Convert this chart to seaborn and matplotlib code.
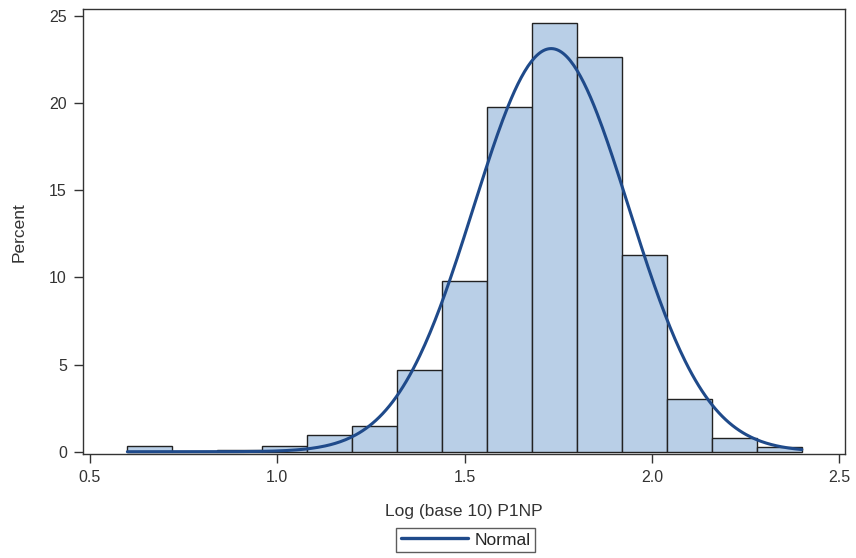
import numpy as np
import pandas as pd
import matplotlib
matplotlib.use("Agg")
import matplotlib.pyplot as plt
import seaborn as sns
from matplotlib.lines import Line2D

# Data
bin_edges = [0.60, 0.72, 0.84, 0.96, 1.08, 1.20, 1.32, 1.44, 1.56, 1.68,
             1.80, 1.92, 2.04, 2.16, 2.28, 2.40]
percent = [0.3, 0.0, 0.1, 0.3, 0.95, 1.5, 4.7, 9.8, 19.75, 24.6,
           22.65, 11.3, 3.0, 0.8, 0.25]
normal_mean = 1.731
normal_sd = 0.207
x_ticks = [0.5, 1.0, 1.5, 2.0, 2.5]
y_ticks = [0, 5, 10, 15, 20, 25]

sns.set_theme(style="white")
plt.rcParams['font.family'] = ['Liberation Sans', 'DejaVu Sans']

fig = plt.figure(figsize=(8.56, 5.58), dpi=100)
ax = fig.add_axes([0.0967, 0.1864, 0.8908, 0.7969])

centers = [(a + b) / 2 for a, b in zip(bin_edges[:-1], bin_edges[1:])]
df = pd.DataFrame({"x": centers, "w": percent})
sns.histplot(data=df, x="x", weights="w", bins=bin_edges, stat="count",
             color="#B9CFE7", edgecolor="#222222", linewidth=1.0, alpha=1.0, ax=ax)

bw = bin_edges[1] - bin_edges[0]
xs = np.linspace(bin_edges[0], bin_edges[-1], 400)
ys = 100 * bw * np.exp(-0.5 * ((xs - normal_mean) / normal_sd) ** 2) / (normal_sd * np.sqrt(2 * np.pi))
sns.lineplot(x=xs, y=ys, color="#1F4A8A", linewidth=2.2, ax=ax)

ax.set_xlim(0.481, 2.516)
ax.set_ylim(-0.13, 25.38)
ax.set_xticks(x_ticks)
ax.set_xticklabels([f"{t:.1f}" for t in x_ticks])
ax.set_yticks(y_ticks)
ax.set_xlabel("Log (base 10) P1NP", fontsize=12.5, color="#333333", labelpad=14)
ax.set_ylabel("Percent", fontsize=12.5, color="#333333", labelpad=16)
ax.tick_params(axis="both", which="both", direction="out", length=6.5, width=1,
               colors="#333333", labelsize=11.5, bottom=True, left=True, pad=5)
for s in ax.spines.values():
    s.set_color("#333333")
    s.set_linewidth(1)

handle = Line2D([0], [0], color="#1F4A8A", linewidth=2.4)
leg = fig.legend([handle], ["Normal"], loc="center", bbox_to_anchor=(0.544, 0.0323),
                 frameon=True, fancybox=False, fontsize=12.5, handlelength=3.85,
                 borderpad=0.25, handletextpad=0.4, borderaxespad=0)
leg.get_frame().set_edgecolor("#333333")
leg.get_frame().set_linewidth(1)

fig.savefig("out.png", dpi=100)
